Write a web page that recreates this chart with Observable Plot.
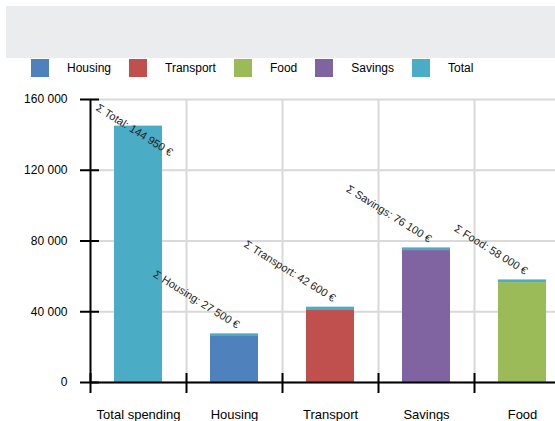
<!DOCTYPE html>
<html>
<head>
<meta charset="utf-8">
<script src="https://cdn.jsdelivr.net/npm/d3@7"></script>
<script src="https://cdn.jsdelivr.net/npm/@observablehq/plot@0.6"></script>
<style>
  body { margin: 0; width: 555px; height: 421px; overflow: hidden; position: relative; background: #fff;
         font-family: Arial, "Liberation Sans", sans-serif; }
  #banner { position: absolute; left: 6px; top: 6px; right: 0; height: 52px; background: #ebecee; }
  #legend { position: absolute; left: 31px; top: 59px; display: flex; align-items: center; white-space: nowrap;
            font-size: 12px; color: #000; }
  .item { display: flex; align-items: center; margin-right: 18px; }
  .sw { width: 18px; height: 18px; margin-right: 18px; }
  #chart { position: absolute; left: 0; top: 80px; }
</style>
</head>
<body>
<div id="banner"></div>
<div id="legend"></div>
<div id="chart"></div>
<script>
// Categories along the x axis
const categories = ["Total spending", "Housing", "Transport", "Savings", "Food"];
// Short names used in the value labels
const shortNames = ["Total", "Housing", "Transport", "Savings", "Food"];

// Series (legend order) and their colours
const seriesNames  = ["Housing", "Transport", "Food", "Savings", "Total"];
const seriesColors = ["#4f81bd", "#c0504d", "#9bbb59", "#8064a2", "#4bacc6"];

// Values of each series per category
const housing   = [0, 26000, 0, 0, 0];
const transport = [0, 0, 40700, 0, 0];
const food      = [0, 0, 0, 0, 56500];
const savings   = [0, 0, 0, 74600, 0];
const total     = [144950, 1500, 1900, 1500, 1500];

// Y axis ticks
const yTicks = [0, 40000, 80000, 120000, 160000];

const seriesValues = [housing, transport, food, savings, total];
const fmt = v => d3.format(",")(v).replace(/,/g, " ");

// Long table for the stacked bars
const rows = [];
seriesNames.forEach((s, i) => seriesValues[i].forEach((v, j) => {
  if (v > 0) rows.push({category: categories[j], series: s, value: v});
}));

// Stack totals for the bar labels
const sums = categories.map((c, j) => ({category: c, name: shortNames[j], sum: d3.sum(seriesValues, a => a[j])}));

// Legend
const legend = document.getElementById("legend");
seriesNames.forEach((s, i) => {
  const item = document.createElement("div");
  item.className = "item";
  const sw = document.createElement("div");
  sw.className = "sw";
  sw.style.background = seriesColors[i];
  const label = document.createElement("span");
  label.textContent = s;
  item.append(sw, label);
  legend.append(item);
});

const labelText = d => `Σ ${d.name}: ${fmt(d.sum)} €`;

const chart = Plot.plot({
  width: 555,
  height: 341,
  marginLeft: 90,
  marginRight: -15,
  marginTop: 19,
  marginBottom: 39,
  style: {fontFamily: "Arial, 'Liberation Sans', sans-serif", fontSize: "12px", background: "transparent", color: "#000"},
  x: {domain: categories, paddingInner: 0.5, paddingOuter: 0.25},
  y: {domain: [0, 160000]},
  color: {domain: seriesNames, range: seriesColors},
  marks: [
    Plot.gridY(yTicks, {stroke: "#d9d9d9", strokeOpacity: 1, strokeWidth: 2}),
    Plot.ruleX(categories.slice(1), {x: d => d, dx: -48, stroke: "#d9d9d9", strokeWidth: 2}),
    Plot.barY(rows, {x: "category", y: "value", fill: "series"}),
    Plot.ruleY([0], {stroke: "#000", strokeWidth: 2}),
    Plot.ruleX([categories[0]], {x: d => d, dx: -48, stroke: "#000", strokeWidth: 2}),
    Plot.axisY(yTicks, {tickSize: 19, dx: 9, fill: "none", label: null, stroke: "#000", strokeWidth: 2}),
    Plot.axisY(yTicks, {tickSize: 0, tickPadding: 23, tickFormat: fmt, fontSize: 12, fill: "#000", label: null}),
    Plot.axisX(categories, {tickSize: 20, dx: -48, dy: -9, fill: "none", label: null, stroke: "#000", strokeWidth: 2}),
    Plot.axisX(categories, {tickSize: 0, tickPadding: 27, fontSize: 13, fill: "#000", label: null}),
    // Value labels: the tallest bar gets a centred label, the rest end just above their bars
    Plot.text(sums.slice(0, 1), {x: "category", y: "sum", text: labelText,
      rotate: 32, textAnchor: "middle", dx: -4, dy: 4, fontSize: 11, fill: "#222"}),
    Plot.text(sums.slice(1), {x: "category", y: "sum", text: labelText,
      rotate: 32, textAnchor: "end", dx: 4, dy: -8, fontSize: 11, fill: "#222"})
  ]
});
document.getElementById("chart").append(chart);
</script>
</body>
</html>
